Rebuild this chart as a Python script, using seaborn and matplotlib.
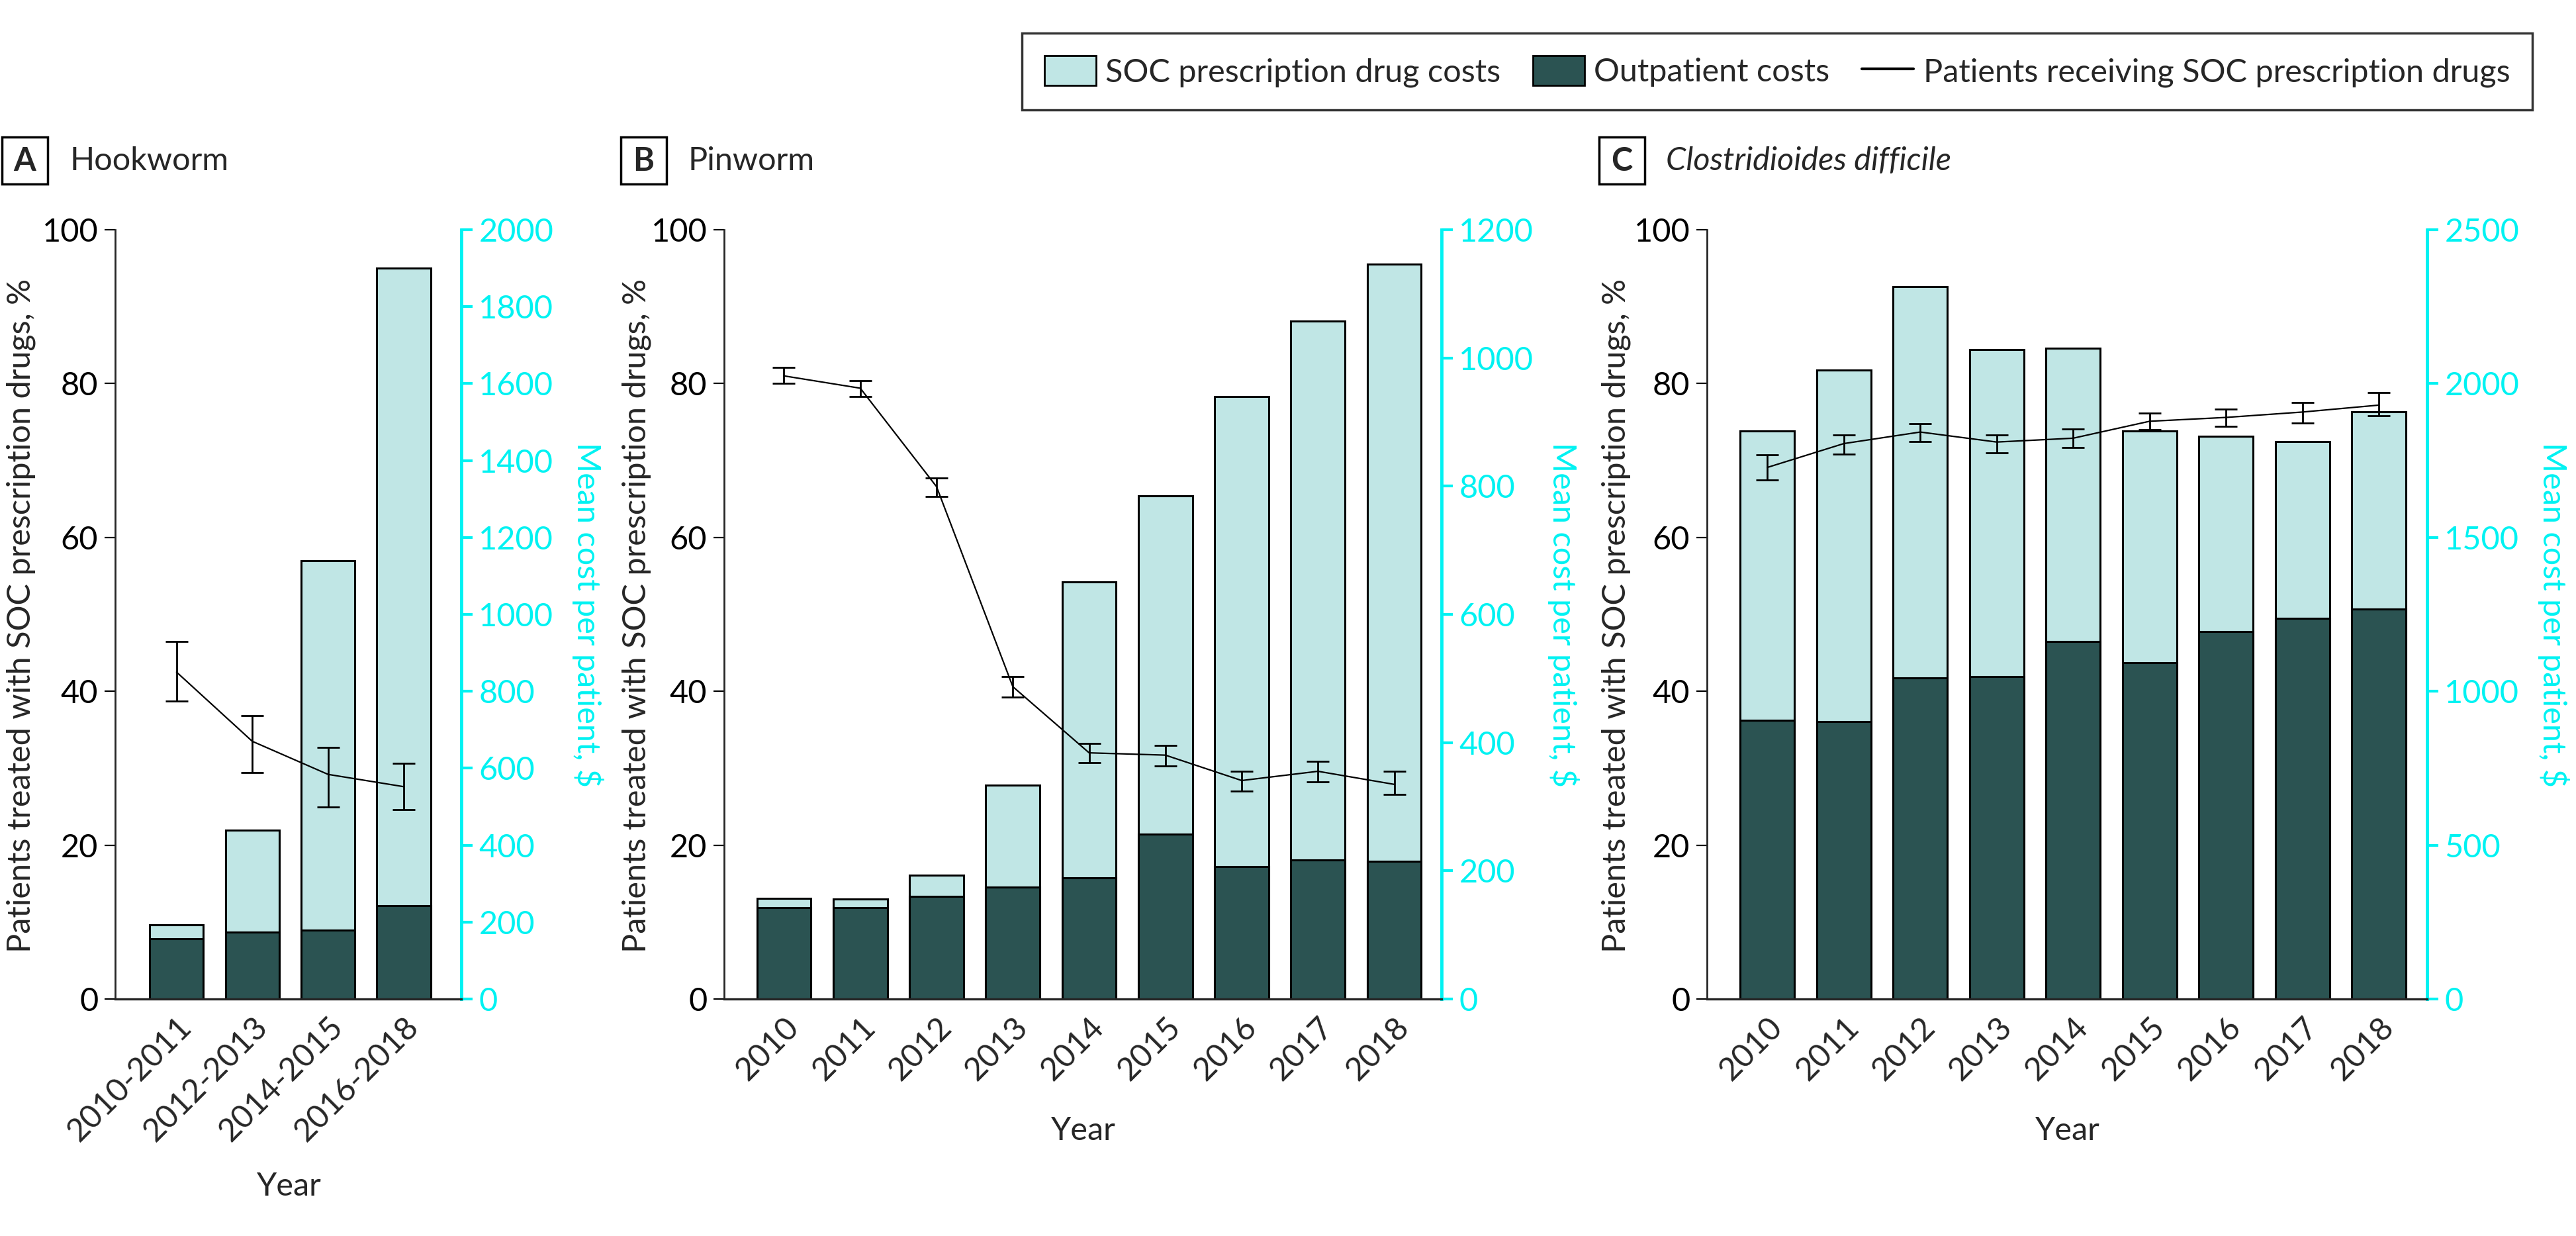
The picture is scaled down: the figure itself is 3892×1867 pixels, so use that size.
import numpy as np
import matplotlib
matplotlib.use("Agg")
from matplotlib import pyplot as plt
from matplotlib.patches import Patch, Rectangle
from matplotlib.lines import Line2D
from matplotlib.transforms import ScaledTranslation
import seaborn as sns

# ---- data (costs in $, percentages in %) ----
hook_years = ["2010-2011", "2012-2013", "2014-2015", "2016-2018"]
hook_total = [192, 439, 1140, 1901]
hook_outpatient = [157, 174, 179, 242]
hook_pct = [42.5, 33.5, 29.2, 27.6]
hook_lo = [38.7, 29.4, 25.0, 24.6]
hook_hi = [46.5, 36.8, 32.7, 30.6]

pin_years = ["2010", "2011", "2012", "2013", "2014", "2015", "2016", "2017", "2018"]
pin_total = [157, 156, 193, 334, 651, 785, 940, 1058, 1146]
pin_outpatient = [143, 142, 160, 175, 189, 257, 207, 217, 215]
pin_pct = [81.0, 79.4, 66.6, 40.6, 32.0, 31.7, 28.4, 29.6, 27.9]
pin_lo = [80.0, 78.3, 65.3, 39.2, 30.7, 30.3, 27.0, 28.2, 26.6]
pin_hi = [82.1, 80.4, 67.7, 41.9, 33.2, 33.0, 29.6, 30.9, 29.6]

cdiff_years = ["2010", "2011", "2012", "2013", "2014", "2015", "2016", "2017", "2018"]
cdiff_total = [1847, 2043, 2315, 2110, 2115, 1847, 1828, 1812, 1909]
cdiff_outpatient = [905, 901, 1043, 1047, 1162, 1092, 1193, 1238, 1267]
cdiff_pct = [69.1, 72.2, 73.7, 72.4, 72.9, 75.1, 75.6, 76.3, 77.2]
cdiff_lo = [67.5, 70.8, 72.5, 71.0, 71.7, 74.0, 74.4, 74.9, 75.8]
cdiff_hi = [70.7, 73.3, 74.8, 73.3, 74.1, 76.2, 76.7, 77.5, 78.8]

LIGHT = "#C0E6E5"
DARK = "#2B5352"
CYAN = "#00F2F2"
FS = 35

sns.set_style("white")
plt.rcParams["font.family"] = ["Lato", "DejaVu Sans"]
plt.rcParams["font.size"] = FS

W, H = 3892, 1867
fig = plt.figure(figsize=(W / 100, H / 100), dpi=100)


def fx(px):
    return px / W


def fy(py):
    return 1 - py / H


def panel(rect_px, years, total, outp, pct, lo, hi, ymax2, step2, xlim,
          letter, name, box_x, name_x, italic, ylab_x, ylab2_x, year_y):
    x0, x1, ytop, ybot = rect_px
    ax = fig.add_axes([fx(x0), fy(ybot), (x1 - x0) / W, (ybot - ytop) / H])
    ax2 = ax.twinx()

    # bars on the cost axis
    sns.barplot(x=years, y=total, ax=ax2, color=LIGHT, saturation=1,
                edgecolor="black", linewidth=2.2, width=0.71)
    sns.barplot(x=years, y=outp, ax=ax2, color=DARK, saturation=1,
                edgecolor="black", linewidth=2.2, width=0.71)

    # line with error bars on the percent axis
    pos = np.arange(len(years))
    pct = np.array(pct)
    err = [pct - np.array(lo), np.array(hi) - pct]
    ax.errorbar(pos, pct, yerr=err, color="black", lw=1.6, elinewidth=2.0,
                capsize=12, capthick=2.0)

    ax.set_zorder(ax2.get_zorder() + 1)
    ax.patch.set_visible(False)

    ax.set_ylim(0, 100)
    ax.set_yticks(np.arange(0, 101, 20))
    ax2.set_ylim(0, ymax2)
    ax2.set_yticks(np.arange(0, ymax2 + 1, step2))
    ax.set_xlim(*xlim)
    ax.set_xticks(pos)
    ax.set_xticklabels(years, rotation=45, ha="right", rotation_mode="anchor")
    shift = ScaledTranslation(10 / 100, 0, fig.dpi_scale_trans)
    for t in ax.get_xticklabels():
        t.set_transform(t.get_transform() + shift)
    ax.set_xlabel("")
    ax2.set_xlabel("")
    ax.set_ylabel("")
    ax2.set_ylabel("")

    for s in ["top", "right"]:
        ax.spines[s].set_visible(False)
    for s in ["top", "left", "bottom"]:
        ax2.spines[s].set_visible(False)
    ax.spines["left"].set_linewidth(2.0)
    ax.spines["bottom"].set_linewidth(2.4)
    ax2.spines["right"].set_color(CYAN)
    ax2.spines["right"].set_linewidth(3.5)

    ax.tick_params(axis="y", length=11.5, width=1.6, pad=7, labelsize=FS, colors="black")
    ax.tick_params(axis="x", length=0, pad=14, labelsize=FS)
    ax2.tick_params(axis="y", length=12, width=3, pad=7, labelsize=FS,
                    colors=CYAN)

    # axis titles
    fig.text(fx(ylab_x), fy(930), "Patients treated with SOC prescription drugs, %",
             rotation=90, ha="center", va="center", fontsize=FS)
    fig.text(fx(ylab2_x), fy(928), "Mean cost per patient, $", rotation=270,
             ha="center", va="center", fontsize=FS, color=CYAN)
    fig.text(fx((x0 + x1) / 2), fy(year_y), "Year", ha="center", va="center",
             fontsize=FS)

    # panel label box + name
    fig.add_artist(Rectangle((fx(box_x), fy(278)), 69 / W, 71 / H,
                             transform=fig.transFigure, fill=False,
                             edgecolor="black", lw=2.5))
    fig.text(fx(box_x + 34.5), fy(243), letter, ha="center", va="center",
             fontsize=FS, fontweight="bold")
    fig.text(fx(name_x), fy(243), name, ha="left", va="center", fontsize=35,
             style="italic" if italic else "normal")
    return ax, ax2


panel((174, 697, 347, 1509), hook_years, hook_total, hook_outpatient,
      hook_pct, hook_lo, hook_hi, 2000, 200, (-0.81, 3.76),
      "A", "Hookworm", 3, 105, False, 32, 888, 1792)
panel((1094, 2178, 347, 1509), pin_years, pin_total, pin_outpatient,
      pin_pct, pin_lo, pin_hi, 1200, 200, (-0.785, 8.62),
      "B", "Pinworm", 938, 1040, False, 962, 2362, 1708)
panel((2579, 3667, 347, 1509), cdiff_years, cdiff_total, cdiff_outpatient,
      cdiff_pct, cdiff_lo, cdiff_hi, 2500, 500, (-0.79, 8.63),
      "C", "Clostridioides difficile", 2416, 2517, True, 2442, 3858, 1708)

handles = [Patch(facecolor=LIGHT, edgecolor="black", lw=2),
           Patch(facecolor=DARK, edgecolor="black", lw=2),
           Line2D([], [], color="black", lw=3)]
labels = ["SOC prescription drug costs", "Outpatient costs",
          "Patients receiving SOC prescription drugs"]
leg = fig.legend(handles, labels, loc="upper left", ncol=3,
                 bbox_to_anchor=(fx(1544), fy(50)), fontsize=FS,
                 frameon=True, fancybox=False, edgecolor="black",
                 handlelength=1.6, handleheight=1.05, handletextpad=0.3,
                 columnspacing=1.0, borderpad=0.7, borderaxespad=0)
leg.get_frame().set_linewidth(2.5)

fig.savefig("out.png", dpi=100, facecolor="white")
